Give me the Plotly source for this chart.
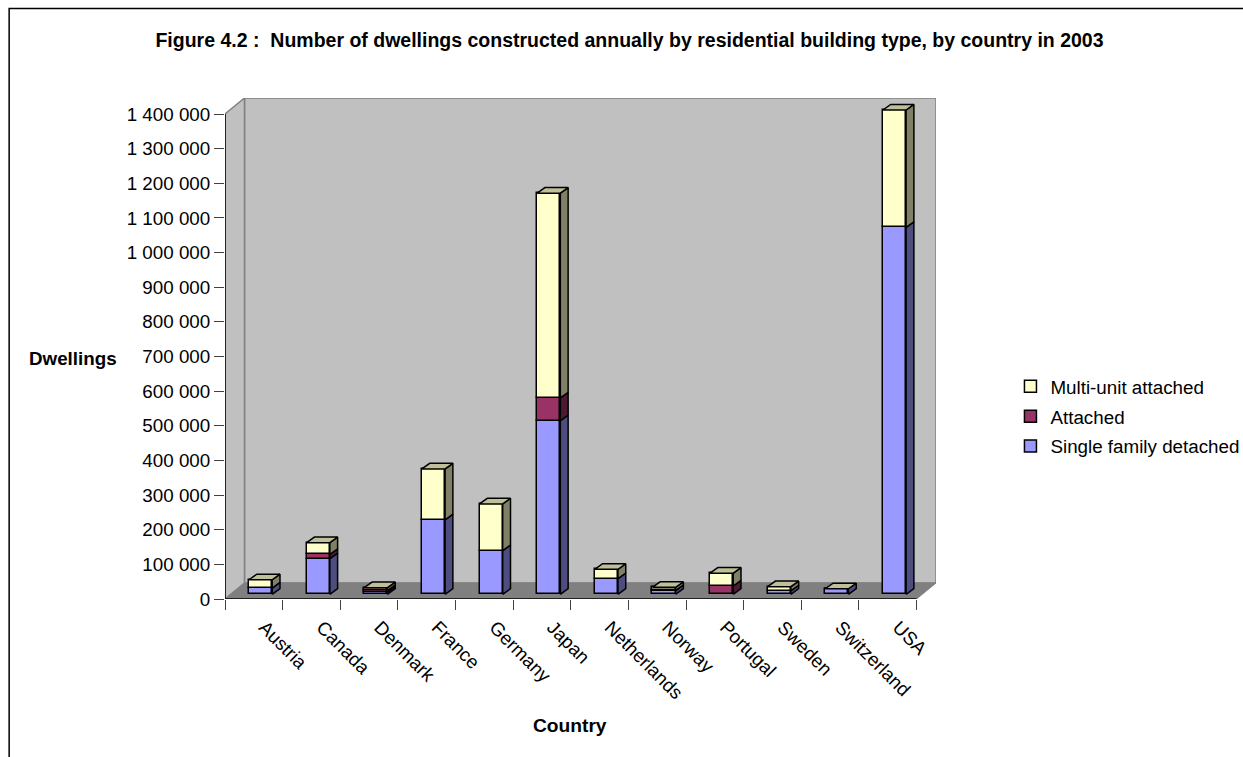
import plotly.graph_objects as go

countries = ["Austria", "Canada", "Denmark", "France", "Germany", "Japan", "Netherlands",
             "Norway", "Portugal", "Sweden", "Switzerland", "USA"]
single_family = [18000, 103000, 6000, 215000, 126000, 501000, 45000, 10000, 0, 10000, 16000, 1059000]
attached = [0, 12000, 5000, 0, 0, 66000, 0, 1000, 24000, 0, 0, 0]
multi_unit = [24000, 34000, 8000, 147000, 135000, 591000, 27000, 9000, 37000, 12000, 0, 339000]
y_ticks = list(range(0, 1500000, 100000))
y_labels = [f"{v:,}".replace(",", "\u00a0") for v in y_ticks]

series = [
    ("Single family detached", single_family, "#9999FF", "#4D4D80", 3),
    ("Attached", attached, "#993366", "#4D1A33", 2),
    ("Multi-unit attached", multi_unit, "#FFFFCC", "#808066", 1),
]

W, H = 1243, 757
L, R, T, B = 225, 936.5, 98, 599
N = len(countries)
px_per_cat = (917 - L) / N
px_per_val = (B - 114) / 1400000
wall_dx, wall_dy = 19.5 / px_per_cat, 16 / px_per_val
start_dx, start_dy = 6.8 / px_per_cat, 4.7 / px_per_val
bar_dx, bar_dy = 7.8 / px_per_cat, 5.6 / px_per_val
bar_w = 23.2 / px_per_cat
label_shift = 10.5 / px_per_cat
OUT = "#000000"
TICK = "#404040"
FONT = 18.8

fig = go.Figure()

bottom = [0] * N
centers = [i + 0.5 + start_dx for i in range(N)]
for name, vals, front, side, rank in series:
    fig.add_trace(go.Bar(
        x=centers, y=vals, base=[b + start_dy for b in bottom], width=bar_w, name=name,
        marker=dict(color=front, line=dict(color=OUT, width=1.5)), legendgroup=name, legendrank=rank,
        hoverinfo="name+y",
    ))
    sx, sy = [], []
    for c, b, v in zip(centers, bottom, vals):
        if v > 0:
            xr = c + bar_w / 2
            y0, y1 = b + start_dy, b + v + start_dy
            sx += [xr, xr + bar_dx, xr + bar_dx, xr, xr, None]
            sy += [y0, y0 + bar_dy, y1 + bar_dy, y1, y0, None]
    fig.add_trace(go.Scatter(x=sx, y=sy, mode="lines", fill="toself", fillcolor=side,
                             line=dict(color=OUT, width=1.5), showlegend=False, hoverinfo="skip"))
    bottom = [b + v for b, v in zip(bottom, vals)]

tx, ty = [], []
for c, total in zip(centers, bottom):
    xl, xr, y1 = c - bar_w / 2, c + bar_w / 2, total + start_dy
    tx += [xl, xr, xr + bar_dx, xl + bar_dx, xl, None]
    ty += [y1, y1, y1 + bar_dy, y1 + bar_dy, y1, None]
fig.add_trace(go.Scatter(x=tx, y=ty, mode="lines", fill="toself", fillcolor="#BFBF99",
                         line=dict(color=OUT, width=1.5), showlegend=False, hoverinfo="skip"))

top_val = 1400000
shapes = [
    dict(type="path", layer="below", fillcolor="#C0C0C0", line=dict(color="#808080", width=1.5),
         path=f"M{wall_dx},{wall_dy} H{N + wall_dx} V{top_val + wall_dy} H{wall_dx} Z"),
    dict(type="path", layer="below", fillcolor="#C0C0C0", line=dict(color="#808080", width=1.5),
         path=f"M0,0 L{wall_dx},{wall_dy} V{top_val + wall_dy} L0,{top_val} Z"),
    dict(type="path", layer="below", fillcolor="#808080", line=dict(color="#808080", width=1),
         path=f"M0,0 H{N} L{N + wall_dx},{wall_dy} H{wall_dx} Z"),
    dict(type="line", layer="above", x0=0, x1=0, y0=0, y1=top_val, line=dict(color="#000000", width=1.5)),
    dict(type="line", layer="above", x0=0, x1=N, y0=0, y1=0, line=dict(color="#000000", width=1.5)),
    dict(type="rect", xref="paper", yref="paper", layer="below",
         x0=(9 - L) / (R - L), x1=(1300 - L) / (R - L), y0=(B - 800) / (B - T), y1=(B - 8.5) / (B - T),
         line=dict(color="#000000", width=1.5), fillcolor="rgba(0,0,0,0)"),
]

fig.update_layout(
    width=W, height=H, margin=dict(l=L, r=W - R, t=T, b=H - B, autoexpand=False),
    paper_bgcolor="white", plot_bgcolor="rgba(0,0,0,0)",
    barmode="overlay", bargap=0, shapes=shapes,
    font=dict(family="Liberation Sans, Arial, sans-serif", color="#000000", size=FONT),
    title=dict(text="<b>Figure 4.2 :  Number of dwellings constructed annually by residential building type, by country in 2003</b>",
               x=(155 + 1104) / 2 / W, xanchor="center", y=1 - 40 / H, yanchor="middle",
               font=dict(size=19.5)),
    xaxis=dict(range=[0, N + wall_dx], tickmode="array", tickvals=[i + 0.5 + label_shift for i in range(N)],
               ticktext=countries, tickangle=45, ticks="outside", ticklen=9, tickcolor="rgba(0,0,0,0)",
               showgrid=False, zeroline=False, showline=False,
               minor=dict(tickmode="array", tickvals=list(range(N + 1)), ticks="outside", ticklen=10,
                          tickcolor=TICK, tickwidth=1, showgrid=False),
               tickfont=dict(size=FONT)),
    yaxis=dict(range=[0, (B - T) / px_per_val], tickmode="array", tickvals=y_ticks, ticktext=y_labels,
               ticks="outside", ticklen=10, tickcolor=TICK, tickwidth=1,
               showgrid=False, zeroline=False, showline=False, tickfont=dict(size=FONT)),
    legend=dict(x=(1011 - L) / (R - L), xanchor="left", y=(B - 367.5) / (B - T), yanchor="top",
                traceorder="grouped", tracegroupgap=2.5, font=dict(size=FONT),
                bgcolor="rgba(0,0,0,0)"),
    annotations=[
        dict(text="<b>Dwellings</b>", xref="paper", yref="paper", x=(73 - L) / (R - L), y=(B - 358) / (B - T),
             showarrow=False, font=dict(size=FONT), xanchor="center", yanchor="middle"),
        dict(text="<b>Country</b>", xref="paper", yref="paper", x=(570 - L) / (R - L), y=(B - 725) / (B - T),
             showarrow=False, font=dict(size=19.2), xanchor="center", yanchor="middle"),
    ],
)

fig.write_html("out.html", config=dict(displayModeBar=False),
               post_script="document.body.style.margin='0';document.documentElement.style.overflow='hidden';")
